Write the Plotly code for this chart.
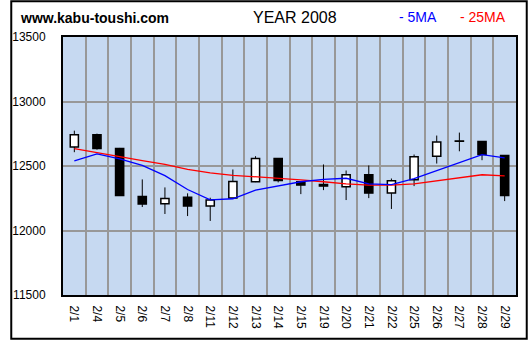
import plotly.graph_objects as go

# Daily candles, February 2008
dates = ["2/1", "2/4", "2/5", "2/6", "2/7", "2/8", "2/11", "2/12", "2/13", "2/14",
         "2/15", "2/19", "2/20", "2/21", "2/22", "2/25", "2/26", "2/27", "2/28", "2/29"]
open_ = [12648, 12743, 12635, 12264, 12208, 12257, 12190, 12251, 12378, 12558,
         12378, 12357, 12339, 12432, 12290, 12393, 12576, 12692, 12689, 12581]
close = [12743, 12635, 12272, 12205, 12249, 12190, 12236, 12380, 12558, 12388,
         12352, 12344, 12432, 12290, 12386, 12571, 12687, 12694, 12589, 12272]
high = [12774, 12751, 12640, 12396, 12334, 12288, 12254, 12473, 12576, 12562,
        12380, 12512, 12465, 12504, 12403, 12589, 12736, 12759, 12692, 12585]
low = [12607, 12627, 12270, 12182, 12128, 12112, 12074, 12248, 12375, 12373,
       12282, 12313, 12236, 12251, 12167, 12344, 12519, 12614, 12545, 12228]

# Moving averages
ma5 = [12540, 12594, 12556, 12504, 12425, 12318, 12237, 12246, 12313, 12346,
       12378, 12396, 12405, 12362, 12355, 12402, 12465, 12528, 12588, 12563]
ma25 = [12635, 12602, 12573, 12542, 12512, 12473, 12447, 12428, 12417, 12406,
        12393, 12378, 12362, 12352, 12352, 12362, 12387, 12411, 12432, 12424]

y_ticks = [11500, 12000, 12500, 13000, 13500]

W, H = 530, 341
ML, MR, MT, MB = 54, 12, 37, 45
PW, PH = W - ML - MR, H - MT - MB


def px_x(px):
    return (px - ML) / PW


def px_y(py):
    return 1 - (py - MT) / PH


xs = list(range(len(dates)))

fig = go.Figure()

# wicks: upper and lower segments so they never cross a body
wx, wy = [], []
for i in xs:
    top = max(open_[i], close[i])
    bot = min(open_[i], close[i])
    if high[i] > top:
        wx += [i, i, None]
        wy += [top, high[i], None]
    if low[i] < bot:
        wx += [i, i, None]
        wy += [low[i], bot, None]
fig.add_trace(go.Scatter(x=wx, y=wy, mode="lines",
                         line=dict(color="black", width=1),
                         hoverinfo="skip", showlegend=False))

# bodies
fig.add_trace(go.Bar(
    x=xs,
    y=[abs(c - o) for o, c in zip(open_, close)],
    base=[min(o, c) for o, c in zip(open_, close)],
    width=0.36,
    marker=dict(color=["white" if c >= o else "black" for o, c in zip(open_, close)],
                line=dict(color="black", width=1.5)),
    showlegend=False,
))

fig.add_trace(go.Scatter(x=xs, y=ma25, mode="lines",
                         line=dict(color="#ff0000", width=1.3), showlegend=False))
fig.add_trace(go.Scatter(x=xs, y=ma5, mode="lines",
                         line=dict(color="#0000ff", width=1.3), showlegend=False))

grid = "#989898"
fig.update_layout(
    width=W, height=H,
    margin=dict(l=ML, r=MR, t=MT, b=MB, pad=0),
    paper_bgcolor="white",
    plot_bgcolor="#c6d9f1",
    barmode="overlay",
    font=dict(family="Liberation Sans, Arial, sans-serif", size=12, color="black"),
    xaxis=dict(
        range=[-0.5, len(dates) - 0.5],
        tickvals=xs, ticktext=dates, tickangle=90,
        showgrid=False, zeroline=False,
        showline=True, mirror=True, linecolor="black", linewidth=2,
        ticks="", ticklabelstandoff=6,
        tickfont=dict(size=12),
        minor=dict(tickvals=[i + 0.5 for i in xs[:-1]], showgrid=True,
                   gridcolor=grid, gridwidth=1.5, ticks=""),
    ),
    yaxis=dict(
        range=[11500, 13500], tickvals=y_ticks, tickformat="d",
        showgrid=True, gridcolor=grid, gridwidth=1.5, zeroline=False,
        showline=True, mirror=True, linecolor="black", linewidth=2,
        ticks="", ticklabelstandoff=13,
        tickfont=dict(size=12),
    ),
    shapes=[dict(type="rect", xref="paper", yref="paper", layer="above",
                 x0=px_x(1), x1=px_x(W - 1), y0=px_y(H - 1), y1=px_y(1),
                 line=dict(color="black", width=2))],
    annotations=[
        dict(text="<b>www.kabu-toushi.com</b>", xref="paper", yref="paper",
             x=px_x(8), y=px_y(18), xanchor="left", yanchor="middle",
             showarrow=False, font=dict(size=14, color="black")),
        dict(text="YEAR 2008", xref="paper", yref="paper",
             x=px_x(292), y=px_y(17), xanchor="center", yanchor="middle",
             showarrow=False, font=dict(size=16, color="black")),
        dict(text="- 5MA", xref="paper", yref="paper",
             x=px_x(396), y=px_y(17), xanchor="left", yanchor="middle",
             showarrow=False, font=dict(size=14, color="#0000ff")),
        dict(text="- 25MA", xref="paper", yref="paper",
             x=px_x(459), y=px_y(17), xanchor="left", yanchor="middle",
             showarrow=False, font=dict(size=14, color="#ff0000")),
    ],
)

fig.write_html("out.html")
